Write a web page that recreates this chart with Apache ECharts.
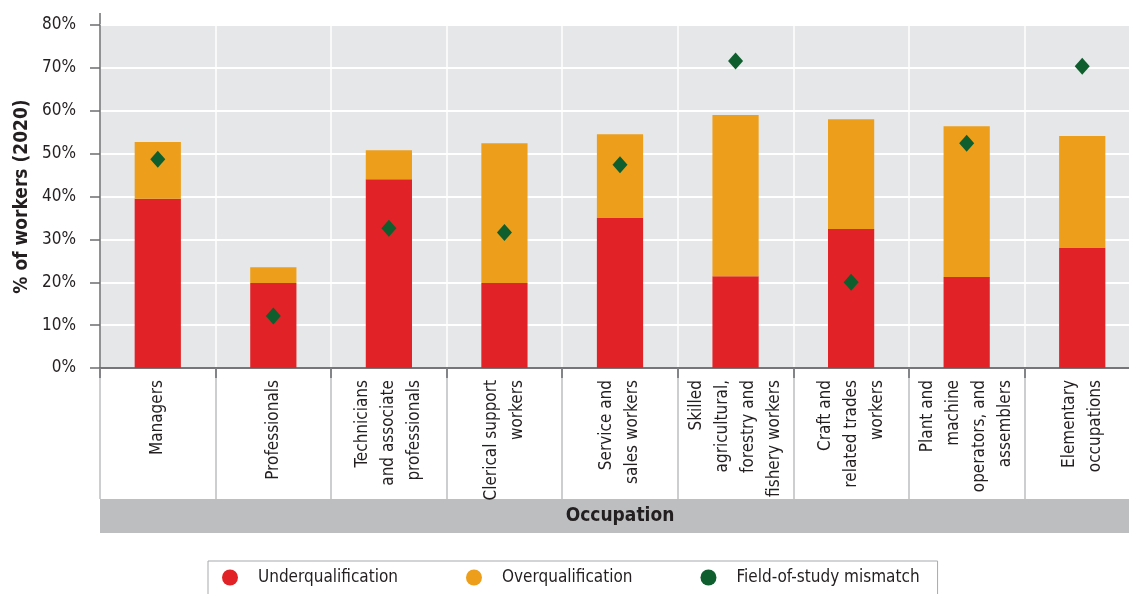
<!DOCTYPE html>
<html>
<head>
<meta charset="utf-8">
<script src="https://cdn.jsdelivr.net/npm/echarts@6/dist/echarts.min.js"></script>
<style>
    html, body { margin: 0; padding: 0; background: #fff; }
    #chart { width: 1129px; height: 594px; }
</style>
</head>
<body>
<div id="chart"></div>
<script>
var categories = ['Managers', 'Professionals', 'Technicians\nand associate\nprofessionals', 'Clerical support\nworkers',
    'Service and\nsales workers', 'Skilled\nagricultural,\nforestry and\nfishery workers', 'Craft and\nrelated trades\nworkers',
    'Plant and\nmachine\noperators, and\nassemblers', 'Elementary\noccupations'];
var underqualification = [39.5, 19.8, 44.0, 19.8, 35.0, 21.4, 32.4, 21.2, 28.0];
var overqualification = [13.2, 3.7, 6.8, 32.6, 19.5, 37.6, 25.6, 35.2, 26.1];
var mismatch = [48.7, 12.1, 32.6, 31.6, 47.4, 71.6, 20.0, 52.4, 70.4];
var yTicks = [0, 10, 20, 30, 40, 50, 60, 70, 80];

var font = "'Liberation Sans Narrow', 'DejaVu Sans Condensed', 'Roboto', sans-serif";
var textColor = '#231f20';
var axisColor = '#6d6e71';

var chart = echarts.init(document.getElementById('chart'));
var option = {
    animation: false,
    textStyle: { fontFamily: font },
    grid: {
        left: 100,
        right: -11,
        top: 25,
        bottom: 226,
        outerBoundsMode: 'none',
        containLabel: false,
        show: true,
        backgroundColor: '#e6e7e8',
        borderWidth: 0
    },
    legend: {
        left: 208,
        top: 561,
        padding: [8, 18, 20, 14],
        itemGap: 68,
        itemWidth: 16,
        itemHeight: 16,
        borderColor: '#a7a9ac',
        borderWidth: 1,
        textStyle: { fontSize: 17, color: textColor, fontFamily: font, padding: [0, 0, 0, 15] },
        data: [
            { name: 'Underqualification', icon: 'circle' },
            { name: 'Overqualification', icon: 'circle' },
            { name: 'Field-of-study mismatch', icon: 'circle' }
        ]
    },
    xAxis: [
        {
            type: 'category',
            data: categories,
            axisLine: { show: true, lineStyle: { color: axisColor, width: 1.5 } },
            axisTick: { show: true, length: 131, lineStyle: { color: '#bcbec0', width: 1.5 } },
            splitLine: { show: true, lineStyle: { color: '#ffffff', width: 1.5 } },
            axisLabel: {
                rotate: 90,
                margin: 12,
                fontSize: 17,
                lineHeight: 26,
                color: textColor,
                fontFamily: font,
                interval: 0
            }
        },
        {
            type: 'category',
            data: categories,
            position: 'bottom',
            axisLine: { show: true, lineStyle: { color: axisColor, width: 1.5 } },
            axisTick: { show: true, length: 10, lineStyle: { color: axisColor, width: 1.5 } },
            axisLabel: { show: false },
            splitLine: { show: false }
        }
    ],
    yAxis: {
        type: 'value',
        min: 0,
        max: 80,
        interval: 10,
        name: '% of workers (2020)',
        nameLocation: 'middle',
        nameGap: 66,
        nameTextStyle: { fontSize: 19, fontWeight: 'bold', color: textColor, fontFamily: font },
        axisLine: { show: true, lineStyle: { color: axisColor, width: 1.5 } },
        axisTick: { show: true, length: 10, lineStyle: { color: axisColor, width: 1.5 } },
        splitLine: { show: true, lineStyle: { color: '#ffffff', width: 2 } },
        axisLabel: {
            margin: 24,
            fontSize: 17,
            color: textColor,
            fontFamily: font,
            formatter: function (v) { return yTicks.indexOf(v) >= 0 ? v + '%' : ''; }
        }
    },
    graphic: [
        {
            type: 'line',
            shape: { x1: 100, y1: 13, x2: 100, y2: 25 },
            style: { stroke: axisColor, lineWidth: 1.5 }
        },
        {
            type: 'rect',
            shape: { x: 100, y: 499, width: 1040, height: 34 },
            style: { fill: '#bcbec0' }
        },
        {
            type: 'text',
            x: 620,
            y: 516,
            style: {
                text: 'Occupation',
                fontSize: 19,
                fontWeight: 'bold',
                fontFamily: font,
                fill: textColor,
                align: 'center',
                verticalAlign: 'middle'
            }
        }
    ],
    series: [
        {
            name: 'Underqualification',
            type: 'bar',
            stack: 'total',
            barWidth: '40%',
            itemStyle: { color: '#e12327' },
            data: underqualification
        },
        {
            name: 'Overqualification',
            type: 'bar',
            stack: 'total',
            barWidth: '40%',
            itemStyle: { color: '#ed9f1b' },
            data: overqualification
        },
        {
            name: 'Field-of-study mismatch',
            type: 'scatter',
            symbol: 'diamond',
            symbolSize: [15, 17],
            z: 5,
            itemStyle: { color: '#0e5e2e', opacity: 1 },
            data: mismatch
        }
    ]
};
chart.setOption(option);
window.addEventListener('resize', chart.resize);
</script>
</body>
</html>
